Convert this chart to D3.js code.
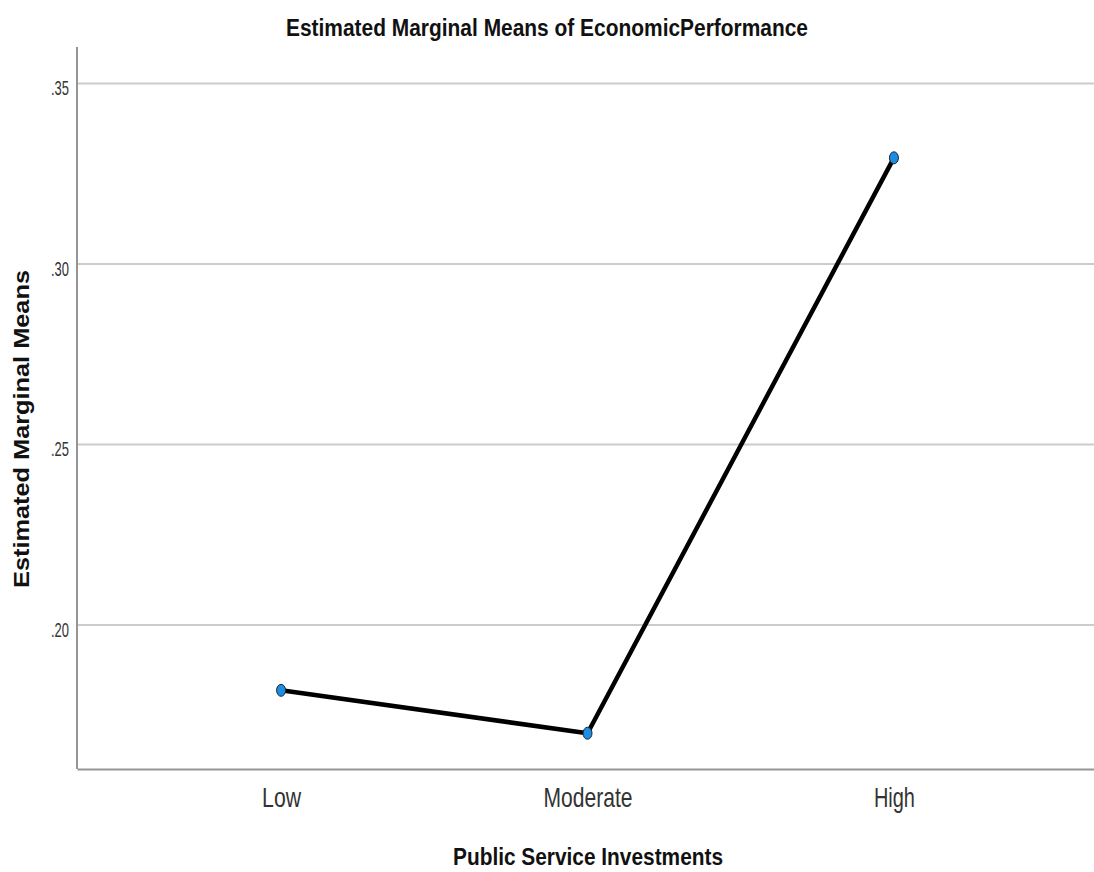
<!DOCTYPE html>
<html>
<head>
<meta charset="utf-8">
<script src="https://cdn.jsdelivr.net/npm/d3@7"></script>
<style>
  html, body { margin: 0; padding: 0; background: #fff; }
  svg { display: block; }
</style>
</head>
<body>
<svg id="chart" width="1094" height="872"></svg>
<script>
const categories = ["Low", "Moderate", "High"];
const means = [0.1818, 0.1699, 0.3293];
const yTicks = [0.20, 0.25, 0.30, 0.35];
const yTickLabels = [".20", ".25", ".30", ".35"];
const titleText = "Estimated Marginal Means of EconomicPerformance";
const yTitle = "Estimated Marginal Means";
const xTitle = "Public Service Investments";

(function () {
const svg = d3.select("#chart");
const mLeft = 77, mRight = 1098, mTop = 47, mBottom = 769;
const FONT = "'Liberation Sans', Arial, sans-serif";

const x = d3.scalePoint().domain(categories).range([mLeft, mRight]).padding(0.666);
const y = d3.scaleLinear().domain([0.16, 0.36]).range([mBottom, mTop]);

// gridlines + y tick labels
const gy = svg.append("g").attr("transform", `translate(${mLeft},0)`)
  .call(d3.axisLeft(y).tickValues(yTicks)
    .tickFormat((d, i) => yTickLabels[i])
    .tickSizeInner(-(mRight - mLeft)).tickSizeOuter(0).tickPadding(8));
gy.select(".domain").remove();
gy.selectAll(".tick line").attr("stroke", "#cccccc").attr("stroke-width", 2);
gy.selectAll(".tick text")
  .attr("font-family", FONT).attr("font-size", 21).attr("fill", "#333")
  .attr("dy", 11.5)
  .attr("textLength", 18).attr("lengthAdjust", "spacingAndGlyphs");

// y axis line
svg.append("line").attr("x1", mLeft).attr("x2", mLeft).attr("y1", mTop).attr("y2", mBottom)
  .attr("stroke", "#959595").attr("stroke-width", 2);

// x axis
const xLabelW = {"Low": 39, "Moderate": 89, "High": 41};
const gx = svg.append("g").attr("transform", `translate(0,${mBottom})`)
  .call(d3.axisBottom(x).tickSize(0).tickPadding(18));
gx.select(".domain").attr("stroke", "#959595").attr("stroke-width", 2);
gx.selectAll(".tick text")
  .attr("font-family", FONT).attr("font-size", 28).attr("fill", "#333")
  .attr("textLength", d => xLabelW[d]).attr("lengthAdjust", "spacingAndGlyphs");

// line
const pts = categories.map((c, i) => [x(c), y(means[i])]);
svg.append("path").attr("d", d3.line()(pts))
  .attr("fill", "none").attr("stroke", "#000").attr("stroke-width", 4.5)
  .attr("stroke-linejoin", "round");

// markers
svg.selectAll("ellipse.pt").data(pts).enter().append("ellipse")
  .attr("class", "pt")
  .attr("cx", d => d[0]).attr("cy", d => d[1])
  .attr("rx", 4.5).attr("ry", 6)
  .attr("fill", "#1a8de6").attr("stroke", "#222").attr("stroke-width", 1);

// titles
svg.append("text").attr("x", 547).attr("y", 36).attr("text-anchor", "middle")
  .attr("font-family", FONT).attr("font-weight", "bold").attr("font-size", 23)
  .attr("fill", "#111").attr("textLength", 522).attr("lengthAdjust", "spacingAndGlyphs")
  .text(titleText);

svg.append("text").attr("transform", "translate(29,429) rotate(-90)")
  .attr("text-anchor", "middle")
  .attr("font-family", FONT).attr("font-weight", "bold").attr("font-size", 22)
  .attr("fill", "#111").attr("textLength", 318).attr("lengthAdjust", "spacingAndGlyphs")
  .text(yTitle);

svg.append("text").attr("x", 588).attr("y", 865).attr("text-anchor", "middle")
  .attr("font-family", FONT).attr("font-weight", "bold").attr("font-size", 24)
  .attr("fill", "#111").attr("textLength", 270).attr("lengthAdjust", "spacingAndGlyphs")
  .text(xTitle);
})();
</script>
</body>
</html>
